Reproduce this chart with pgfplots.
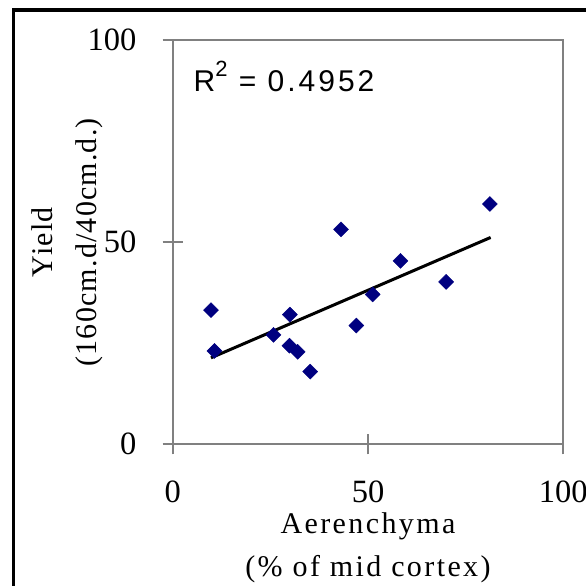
\documentclass[border=0pt]{standalone}
\usepackage{fontspec}
\setmainfont{Liberation Serif}
\newfontfamily\arialls{Liberation Sans}[LetterSpace=10]
\newfontfamily\serifls{Liberation Serif}[LetterSpace=8]
\newfontfamily\serifly{Liberation Serif}[LetterSpace=4]
\usepackage{pgfplots}
\pgfplotsset{compat=1.18}
\definecolor{navy}{RGB}{0,0,128}
\definecolor{axgray}{RGB}{128,128,128}
\begin{document}
\begin{tikzpicture}[x=1pt,y=1pt]
\useasboundingbox (0,0) rectangle (586,586);
\clip (0,0) rectangle (586,586);
\fill[white] (0,0) rectangle (586,586);
\draw[line width=3.5pt] (13.3,-20) rectangle (620,576);
\begin{axis}[
  at={(172.7pt,141.7pt)}, anchor=south west,
  scale only axis, width=390.6pt, height=404pt,
  xmin=0, xmax=100, ymin=0, ymax=100,
  xtick={0,50,100}, ytick={0,50,100},
  tick pos=left, tick align=center, major tick length=20pt,
  axis line style={axgray, line width=2pt},
  every tick/.style={axgray, line width=2pt},
  /pgf/number format/assume math mode=true,
  every tick label/.style={font=\fontsize{32.5}{36}\selectfont, inner sep=0pt},
  xticklabel style={anchor=north},
  yticklabel style={anchor=east},
  xticklabel shift=26.7pt,
  yticklabel shift=26pt,
  xlabel={Aerenchyma\\(\% of mid cortex)},
  xlabel style={at={(axis description cs:0.5,-0.1676)}, anchor=north, inner sep=0pt, align=center, font=\serifls\fontsize{30}{43}\selectfont},
  ylabel={Yield\\(160cm.d/40cm.d.)},
  ylabel style={at={(axis description cs:-0.1792,0.5)}, anchor=south, inner sep=0pt, align=center, font=\serifly\fontsize{30}{44}\selectfont},
]
\addplot[only marks, mark=square*, mark size=5.3pt, mark options={rotate=45, fill=navy, draw=navy}] coordinates {
(9.8,33.2) (10.7,23.1) (25.8,27.1) (30.0,32.1) (29.9,24.4) (32.0,22.9) (35.2,18.0)
(43.1,53.2) (47.0,29.4) (51.2,37.1) (58.3,45.4) (70.0,40.2) (81.2,59.5)
};
\addplot[black, line width=3pt] coordinates {(9.8,21.4) (81.4,51.2)};
\node[anchor=base west, inner sep=0pt, font=\arialls\fontsize{30}{36}\selectfont] at (rel axis cs:0.053,0.873) {R\raisebox{15pt}{\fontsize{22}{22}\selectfont 2} = 0.4952};
\end{axis}
\end{tikzpicture}
\end{document}
